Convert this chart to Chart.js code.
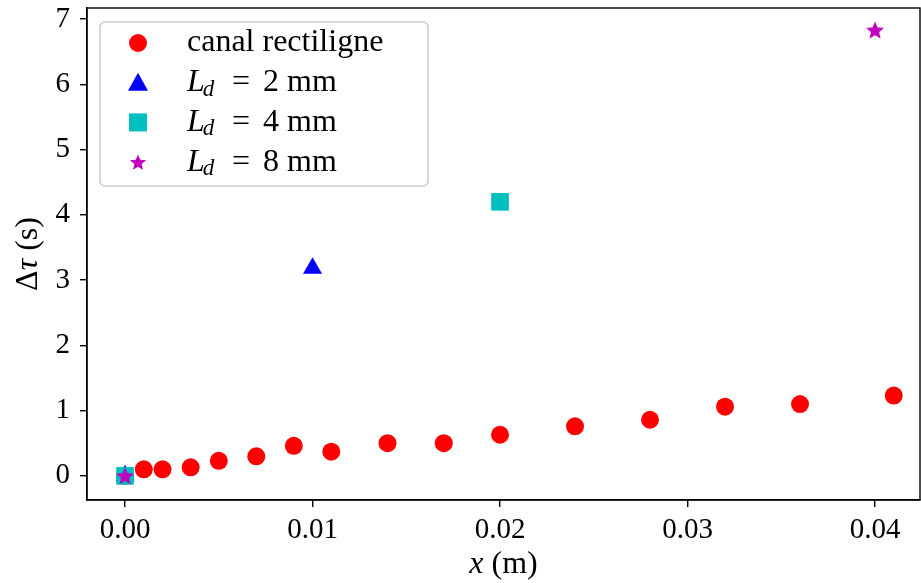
<!DOCTYPE html>
<html>
<head>
<meta charset="utf-8">
<script src="https://cdn.jsdelivr.net/npm/chart.js@4"></script>
<style>
  html, body { margin: 0; padding: 0; background: #fff; }
  #wrap { width: 921px; height: 583px; }
</style>
</head>
<body>
<div id="wrap"><canvas id="chart" width="921" height="583"></canvas></div>
<script>
// Data
const canalX = [0, 0.001, 0.002, 0.0035, 0.005, 0.007, 0.009, 0.011, 0.014, 0.017, 0.020, 0.024, 0.028, 0.032, 0.036, 0.041];
const canalY = [0, 0.10, 0.10, 0.13, 0.23, 0.30, 0.46, 0.37, 0.50, 0.50, 0.63, 0.76, 0.86, 1.06, 1.10, 1.23];
const ld2X = [0, 0.01];
const ld2Y = [0, 3.18];
const ld4X = [0, 0.02];
const ld4Y = [0, 4.20];
const ld8X = [0, 0.04];
const ld8Y = [0, 6.83];
const xTicks = [0, 0.01, 0.02, 0.03, 0.04];
const yTicks = [0, 1, 2, 3, 4, 5, 6, 7];

const SERIF = '"Liberation Serif", "DejaVu Serif", serif';

function toPoints(xs, ys) {
  return xs.map((x, i) => ({ x: x, y: ys[i] }));
}

// filled 5-point star, used as point style
function starPath(ctx, cx, cy, r) {
  ctx.beginPath();
  for (let i = 0; i < 10; i++) {
    const rad = i % 2 === 0 ? r : r * 0.45;
    const a = -Math.PI / 2 + i * Math.PI / 5;
    const px = cx + rad * Math.cos(a), py = cy + rad * Math.sin(a);
    if (i === 0) ctx.moveTo(px, py); else ctx.lineTo(px, py);
  }
  ctx.closePath();
}
const starImg = document.createElement('canvas');
starImg.width = 20; starImg.height = 20;
(function () {
  const c = starImg.getContext('2d');
  c.fillStyle = '#bf00bf';
  starPath(c, 10, 10.8, 9.5);
  c.fill();
})();

const legendItems = [
  { label: 'canal rectiligne', marker: 'circle', color: '#ff0000' },
  { sub: '2', marker: 'triangle', color: '#0000ff' },
  { sub: '4', marker: 'rect', color: '#00bfbf' },
  { sub: '8', marker: 'star', color: '#bf00bf' }
];

function drawMarker(ctx, type, cx, cy, color) {
  ctx.fillStyle = color;
  if (type === 'circle') {
    ctx.beginPath(); ctx.arc(cx, cy, 9, 0, Math.PI * 2); ctx.fill();
  } else if (type === 'triangle') {
    ctx.beginPath();
    ctx.moveTo(cx, cy - 10); ctx.lineTo(cx + 10, cy + 8); ctx.lineTo(cx - 10, cy + 8);
    ctx.closePath(); ctx.fill();
  } else if (type === 'rect') {
    ctx.fillRect(cx - 9, cy - 9, 18, 18);
  } else {
    starPath(ctx, cx, cy + 0.8, 8.5); ctx.fill();
  }
}

const framePlugin = {
  id: 'frame',
  afterDraw(chart) {
    const ctx = chart.ctx;
    const a = chart.chartArea;
    ctx.save();
    ctx.strokeStyle = '#000';
    ctx.lineWidth = 1.4;
    ctx.strokeRect(a.left, a.top, a.right - a.left, a.bottom - a.top);

    // axis titles
    ctx.fillStyle = '#000';
    ctx.textBaseline = 'middle';
    ctx.textAlign = 'left';
    const midX = (a.left + a.right) / 2;
    const xTitleY = 565;
    ctx.font = 'italic 32px ' + SERIF;
    const wx = ctx.measureText('x').width;
    ctx.font = '32px ' + SERIF;
    const wm = ctx.measureText(' (m)').width;
    const sx = midX - (wx + wm) / 2;
    ctx.font = 'italic 32px ' + SERIF;
    ctx.fillText('x', sx, xTitleY);
    ctx.font = '32px ' + SERIF;
    ctx.fillText(' (m)', sx + wx, xTitleY);

    ctx.save();
    ctx.translate(29, (a.top + a.bottom) / 2);
    ctx.rotate(-Math.PI / 2);
    ctx.font = '32px ' + SERIF;
    const wd = ctx.measureText('\u0394').width;
    ctx.font = 'italic 32px ' + SERIF;
    const wt = ctx.measureText('\u03c4').width;
    ctx.font = '32px ' + SERIF;
    const ws = ctx.measureText(' (s)').width;
    const ty = -(wd + wt + ws) / 2;
    ctx.fillText('\u0394', ty, 0);
    ctx.font = 'italic 32px ' + SERIF;
    ctx.fillText('\u03c4', ty + wd, 0);
    ctx.font = '32px ' + SERIF;
    ctx.fillText(' (s)', ty + wd + wt, 0);
    ctx.restore();

    // legend box
    const bx = 100, by = 22, bw = 328, bh = 164, r = 5;
    ctx.beginPath();
    ctx.moveTo(bx + r, by);
    ctx.arcTo(bx + bw, by, bx + bw, by + bh, r);
    ctx.arcTo(bx + bw, by + bh, bx, by + bh, r);
    ctx.arcTo(bx, by + bh, bx, by, r);
    ctx.arcTo(bx, by, bx + bw, by, r);
    ctx.closePath();
    ctx.fillStyle = 'rgba(255,255,255,0.8)';
    ctx.fill();
    ctx.strokeStyle = '#cccccc';
    ctx.lineWidth = 1.5;
    ctx.stroke();

    legendItems.forEach((item, i) => {
      const cy = 43 + i * 39.7;
      drawMarker(ctx, item.marker, 138, cy, item.color);
      ctx.fillStyle = '#000';
      ctx.textAlign = 'left';
      ctx.textBaseline = 'middle';
      const tx = 187;
      if (item.label) {
        ctx.font = '32px ' + SERIF;
        ctx.fillText(item.label, tx, cy);
      } else {
        ctx.font = 'italic 32px ' + SERIF;
        ctx.fillText('L', tx, cy);
        const wl = ctx.measureText('L').width;
        ctx.font = 'italic 23px ' + SERIF;
        ctx.fillText('d', tx + wl - 2, cy + 7);
        ctx.font = '32px ' + SERIF;
        ctx.fillText('=', 232, cy);
        ctx.fillText(item.sub + ' mm', 263, cy);
      }
    });
    ctx.restore();
  }
};

new Chart(document.getElementById('chart').getContext('2d'), {
  type: 'scatter',
  data: {
    datasets: [
      { label: 'canal rectiligne', data: toPoints(canalX, canalY), pointStyle: 'circle', pointRadius: 9, pointHoverRadius: 9,
        backgroundColor: '#ff0000', borderWidth: 0, order: 3 },
      { label: 'L_d = 2 mm', data: toPoints(ld2X, ld2Y), pointStyle: 'triangle', pointRadius: 11, pointHoverRadius: 11,
        backgroundColor: '#0000ff', borderWidth: 0, order: 2 },
      { label: 'L_d = 4 mm', data: toPoints(ld4X, ld4Y), pointStyle: 'rect', pointRadius: 12.5, pointHoverRadius: 12.5,
        backgroundColor: '#00bfbf', borderWidth: 0, order: 1 },
      { label: 'L_d = 8 mm', data: toPoints(ld8X, ld8Y), pointStyle: starImg, pointRadius: 10,
        backgroundColor: '#bf00bf', borderWidth: 0, order: 0 }
    ]
  },
  options: {
    responsive: false,
    animation: false,
    layout: { autoPadding: false, padding: { top: 8, right: 1, left: 0, bottom: 0 } },
    plugins: { legend: { display: false }, tooltip: { enabled: false } },
    scales: {
      x: {
        type: 'linear',
        min: -0.00203,
        max: 0.0424,
        afterBuildTicks: (s) => { s.ticks = xTicks.map(v => ({ value: v })); },
        afterFit: (s) => { s.height = 83; s.paddingLeft = 0; s.paddingRight = 0; },
        grid: { display: true, drawOnChartArea: false, drawTicks: true, tickLength: 7, color: '#000', lineWidth: 1.4 },
        border: { display: true, color: '#000', width: 1.4 },
        ticks: { color: '#000', padding: 6, maxRotation: 0, font: { family: SERIF, size: 29 },
          callback: (v) => v.toFixed(2) }
      },
      y: {
        type: 'linear',
        min: -0.37,
        max: 7.17,
        afterBuildTicks: (s) => { s.ticks = yTicks.map(v => ({ value: v })); },
        afterFit: (s) => { s.width = 87; s.paddingTop = 0; s.paddingBottom = 0; },
        grid: { display: true, drawOnChartArea: false, drawTicks: true, tickLength: 7, color: '#000', lineWidth: 1.4 },
        border: { display: true, color: '#000', width: 1.4 },
        ticks: { color: '#000', padding: 10, font: { family: SERIF, size: 29 },
          callback: (v) => String(v) }
      }
    }
  },
  plugins: [framePlugin]
});
</script>
</body>
</html>
